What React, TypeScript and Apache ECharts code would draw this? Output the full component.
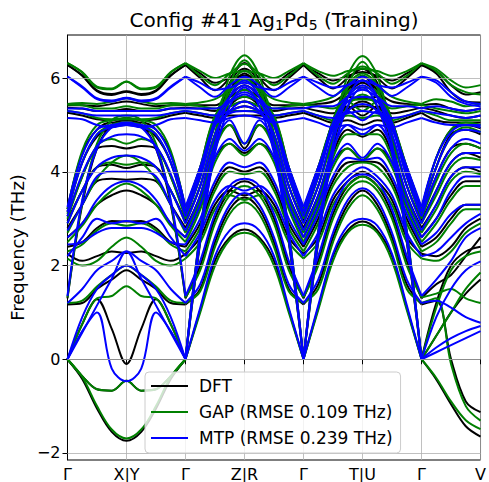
import React, { useEffect, useRef } from "react";
import * as echarts from "echarts";

const TICK_LABELS = ["Γ", "X|Y", "Γ", "Z|R", "Γ", "T|U", "Γ", "V"];
const Y_TICKS = [-2, 0, 2, 4, 6];

const K_A = [0, 0.25, 0.5, 0.75, 1, 1.25, 1.5, 1.75, 2];
const K_B = [2, 2.25, 2.5, 2.75, 3, 3.25, 3.5, 3.75, 4];
const K_C = [4, 4.25, 4.5, 4.75, 5, 5.25, 5.5, 5.75, 6];
const K_D = [6, 6.25, 6.5, 6.75, 7];

const DFT_A = [
  [0,-0.42,-1.05,-1.55,-1.74,-1.55,-1.05,-0.42,0],
  [0,-0.36,-0.64,-0.67,-0.46,-0.67,-0.64,-0.36,0],
  [0,0.75,1.28,0.65,-0.1,0.65,1.28,0.75,0],
  [1.17,1.2,1.5,1.7,1.9,1.7,1.5,1.2,1.17],
  [1.3,3.3,4.5,5.0,5.1,5.0,4.5,3.3,1.3],
  [2.25,2.1,2.2,2.3,2.27,2.3,2.2,2.1,2.25],
  [2.4,2.5,2.8,2.95,2.94,2.95,2.8,2.5,2.4],
  [2.6,2.9,3.3,3.5,3.6,3.5,3.3,2.9,2.6],
  [2.8,3.3,3.8,3.85,3.83,3.85,3.8,3.3,2.8],
  [2.95,3.6,4.1,4.15,4.08,4.15,4.1,3.6,2.95],
  [3.05,3.9,4.5,4.55,4.5,4.55,4.5,3.9,3.05],
  [3.15,4.2,4.75,4.95,5.0,4.95,4.75,4.2,3.15],
  [3.2,4.4,4.9,5.05,5.05,5.05,4.9,4.4,3.2],
  [5.26,5.2,5.12,5.1,5.15,5.1,5.12,5.2,5.26],
  [5.37,5.35,5.3,5.3,5.34,5.3,5.3,5.35,5.37],
  [5.42,5.42,5.4,5.45,5.5,5.45,5.4,5.42,5.42],
  [6.28,6.05,5.72,5.64,5.71,5.64,5.72,6.05,6.28],
  [6.28,6.06,5.74,5.66,5.72,5.66,5.74,6.06,6.28],
];
const DFT_B = [
  [0,1.05,2.1,2.6,2.77,2.6,2.1,1.05,0],
  [0,2.7,4.7,5.9,6.2,5.9,4.7,2.7,0],
  [0,2.5,4.5,5.7,6.1,5.7,4.5,2.5,0],
  [1.17,1.5,2.5,3.2,3.45,3.2,2.5,1.5,1.17],
  [1.3,2.0,3.0,3.6,3.8,3.6,3.0,2.0,1.3],
  [2.25,2.6,3.3,3.6,3.5,3.6,3.3,2.6,2.25],
  [2.4,2.9,3.7,4.1,4.0,4.1,3.7,2.9,2.4],
  [2.6,3.3,4.3,4.6,4.4,4.6,4.3,3.3,2.6],
  [2.8,3.5,4.6,5.0,4.5,5.0,4.6,3.5,2.8],
  [2.95,3.7,4.8,5.4,5.6,5.4,4.8,3.7,2.95],
  [3.05,3.9,5.0,5.6,5.85,5.6,5.0,3.9,3.05],
  [3.15,4.0,5.1,5.75,6.0,5.75,5.1,4.0,3.15],
  [3.2,4.1,5.15,5.3,5.4,5.3,5.15,4.1,3.2],
  [5.26,5.2,5.15,5.2,5.2,5.2,5.15,5.2,5.26],
  [5.37,5.35,5.3,5.4,5.5,5.4,5.3,5.35,5.37],
  [5.42,5.42,5.42,5.6,5.75,5.6,5.42,5.42,5.42],
  [6.28,6.0,5.74,6.0,6.32,6.0,5.74,6.0,6.28],
  [6.28,6.1,5.9,6.0,6.05,6.0,5.9,6.1,6.28],
];
const DFT_C = [
  [0,1.1,2.2,2.75,2.94,2.75,2.2,1.1,0],
  [0,2.7,4.7,5.9,6.2,5.9,4.7,2.7,0],
  [0,2.5,4.5,5.6,6.05,5.6,4.5,2.5,0],
  [1.17,1.6,2.6,3.3,3.6,3.3,2.6,1.6,1.17],
  [1.3,2.1,3.1,3.7,3.9,3.7,3.1,2.1,1.3],
  [2.25,2.6,3.4,3.8,4.0,3.8,3.4,2.6,2.25],
  [2.4,3.0,3.8,4.2,4.22,4.2,3.8,3.0,2.4],
  [2.6,3.3,4.2,4.5,4.25,4.5,4.2,3.3,2.6],
  [2.8,3.5,4.4,4.9,4.75,4.9,4.4,3.5,2.8],
  [2.95,3.7,4.7,5.3,5.5,5.3,4.7,3.7,2.95],
  [3.05,3.9,5.0,5.6,5.57,5.6,5.0,3.9,3.05],
  [3.15,4.0,5.1,5.75,5.95,5.75,5.1,4.0,3.15],
  [3.2,4.1,5.0,5.4,5.2,5.4,5.0,4.1,3.2],
  [5.26,5.15,5.05,5.1,5.0,5.1,5.05,5.15,5.26],
  [5.37,5.3,5.25,5.35,5.4,5.35,5.25,5.3,5.37],
  [5.42,5.45,5.5,5.7,5.9,5.7,5.5,5.45,5.42],
  [6.28,6.0,5.78,6.0,6.2,6.0,5.78,6.0,6.28],
  [6.28,6.1,5.95,6.05,6.13,6.05,5.95,6.1,6.28],
];
const DFT_D = [
  [0,-0.43,-0.96,-1.43,-1.65],
  [0,0.5,1.0,1.4,1.7],
  [0,1.2,2.0,2.3,2.4],
  [1.17,1.25,0.0,-0.9,-1.13],
  [1.3,1.6,1.8,2.2,2.6],
  [2.25,2.2,2.4,2.8,3.0],
  [2.4,2.6,3.0,3.3,3.3],
  [2.6,3.0,3.5,3.8,3.8],
  [2.8,3.3,3.9,4.1,4.0],
  [2.95,3.6,4.2,4.4,4.3],
  [3.05,3.9,4.5,4.6,4.5],
  [3.15,4.1,4.8,4.9,4.8],
  [3.2,4.3,4.9,5.0,4.93],
  [5.26,5.1,5.05,5.05,5.05],
  [5.37,5.3,5.2,5.15,5.2],
  [5.42,5.45,5.35,5.3,5.35],
  [6.28,6.15,5.85,5.65,5.7],
  [6.28,6.1,5.7,5.5,5.48],
];

const GAP_A = [
  [0,-0.38,-1.0,-1.5,-1.69,-1.5,-1.0,-0.38,0],
  [0,-0.36,-0.64,-0.67,-0.46,-0.67,-0.64,-0.36,0],
  [0,0.75,1.3,1.35,1.56,1.35,1.3,0.75,0],
  [1.2,1.25,1.55,1.8,2.0,1.8,1.55,1.25,1.2],
  [1.32,3.35,4.6,5.1,5.2,5.1,4.6,3.35,1.32],
  [2.15,2.0,2.1,2.4,2.6,2.4,2.1,2.0,2.15],
  [2.3,2.45,2.75,2.9,2.85,2.9,2.75,2.45,2.3],
  [2.5,2.85,3.3,3.6,3.75,3.6,3.3,2.85,2.5],
  [2.7,3.3,3.85,4.2,4.35,4.2,3.85,3.3,2.7],
  [2.9,3.6,4.1,4.2,4.15,4.2,4.1,3.6,2.9],
  [3.0,3.9,4.55,4.7,4.6,4.7,4.55,3.9,3.0],
  [3.1,4.2,4.8,5.0,5.05,5.0,4.8,4.2,3.1],
  [3.2,4.45,5.0,5.1,5.12,5.1,5.0,4.45,3.2],
  [5.3,5.25,5.15,5.12,5.15,5.12,5.15,5.25,5.3],
  [5.43,5.42,5.35,5.35,5.4,5.35,5.35,5.42,5.43],
  [5.45,5.47,5.45,5.5,5.57,5.5,5.45,5.47,5.45],
  [6.32,6.12,5.8,5.76,5.92,5.76,5.8,6.12,6.32],
  [6.32,6.13,5.82,5.78,5.93,5.78,5.82,6.13,6.32],
];
const GAP_B = [
  [0,1.0,2.0,2.55,2.7,2.55,2.0,1.0,0],
  [0,2.75,4.8,6.05,6.49,6.05,4.8,2.75,0],
  [0,2.55,4.6,5.85,6.38,5.85,4.6,2.55,0],
  [1.2,1.45,2.4,3.1,3.35,3.1,2.4,1.45,1.2],
  [1.32,1.9,2.9,3.5,3.7,3.5,2.9,1.9,1.32],
  [2.15,2.5,3.2,3.5,3.4,3.5,3.2,2.5,2.15],
  [2.3,2.8,3.6,4.0,3.95,4.0,3.6,2.8,2.3],
  [2.5,3.2,4.2,4.6,4.35,4.6,4.2,3.2,2.5],
  [2.7,3.4,4.5,5.0,4.6,5.0,4.5,3.4,2.7],
  [2.9,3.7,4.8,5.5,5.75,5.5,4.8,3.7,2.9],
  [3.0,3.9,5.0,5.7,6.0,5.7,5.0,3.9,3.0],
  [3.1,4.0,5.15,5.85,6.15,5.85,5.15,4.0,3.1],
  [3.2,4.1,5.2,5.4,5.5,5.4,5.2,4.1,3.2],
  [5.3,5.25,5.2,5.3,5.3,5.3,5.2,5.25,5.3],
  [5.43,5.4,5.35,5.5,5.6,5.5,5.35,5.4,5.43],
  [5.45,5.48,5.55,5.75,5.95,5.75,5.55,5.48,5.45],
  [6.32,6.05,5.85,6.1,6.3,6.1,5.85,6.05,6.32],
  [6.32,6.15,6.0,6.1,6.15,6.1,6.0,6.15,6.32],
];
const GAP_C = [
  [0,1.05,2.1,2.7,2.87,2.7,2.1,1.05,0],
  [0,2.75,4.8,6.05,6.47,6.05,4.8,2.75,0],
  [0,2.55,4.6,5.8,6.35,5.8,4.6,2.55,0],
  [1.2,1.5,2.5,3.2,3.5,3.2,2.5,1.5,1.2],
  [1.32,2.0,3.0,3.6,3.8,3.6,3.0,2.0,1.32],
  [2.15,2.5,3.3,3.7,3.9,3.7,3.3,2.5,2.15],
  [2.3,2.9,3.7,4.1,4.2,4.1,3.7,2.9,2.3],
  [2.5,3.2,4.1,4.5,4.25,4.5,4.1,3.2,2.5],
  [2.7,3.4,4.3,4.8,4.8,4.8,4.3,3.4,2.7],
  [2.9,3.7,4.7,5.4,5.65,5.4,4.7,3.7,2.9],
  [3.0,3.9,5.0,5.7,5.8,5.7,5.0,3.9,3.0],
  [3.1,4.0,5.1,5.85,6.1,5.85,5.1,4.0,3.1],
  [3.2,4.1,5.05,5.5,5.3,5.5,5.05,4.1,3.2],
  [5.3,5.2,5.1,5.2,5.15,5.2,5.1,5.2,5.3],
  [5.43,5.4,5.35,5.5,5.55,5.5,5.35,5.4,5.43],
  [5.45,5.5,5.6,5.85,6.05,5.85,5.6,5.5,5.45],
  [6.32,6.05,5.88,6.1,6.25,6.1,5.88,6.05,6.32],
  [6.32,6.15,6.05,6.15,6.2,6.15,6.05,6.15,6.32],
];
const GAP_D = [
  [0,-0.4,-0.9,-1.3,-1.49],
  [0,0.5,1.0,1.5,1.85],
  [0,1.1,1.9,2.2,2.3],
  [1.2,1.3,-0.1,-1.0,-1.31],
  [1.32,1.4,1.5,1.3,1.2],
  [2.15,2.1,2.3,2.7,2.9],
  [2.3,2.5,2.9,3.2,3.2],
  [2.5,2.9,3.4,3.7,3.7],
  [2.7,3.2,3.8,4.0,3.95],
  [2.9,3.5,4.1,4.3,4.25],
  [3.0,3.8,4.4,4.6,4.5],
  [3.1,4.1,4.75,4.95,4.85],
  [3.2,4.3,4.9,5.05,5.0],
  [5.3,5.2,5.1,5.1,5.1],
  [5.43,5.35,5.3,5.25,5.3],
  [5.45,5.55,5.5,5.4,5.45],
  [6.32,6.2,5.95,5.8,5.85],
  [6.32,6.15,5.85,5.7,5.65],
];

const MTP_A = [
  [0,0.57,1.15,1.72,2.3,1.72,1.15,0.57,0],
  [0,0.6,1.0,-0.2,-0.47,-0.2,1.0,0.6,0],
  [0,0.9,1.5,1.8,2.0,1.8,1.5,0.9,0],
  [1.2,1.5,1.9,2.1,2.3,2.1,1.9,1.5,1.2],
  [1.35,3.4,4.5,4.95,5.05,4.95,4.5,3.4,1.35],
  [2.2,2.6,3.0,2.9,2.95,2.9,3.0,2.6,2.2],
  [2.45,2.5,2.7,2.8,2.8,2.8,2.7,2.5,2.45],
  [2.6,2.9,3.4,3.7,3.8,3.7,3.4,2.9,2.6],
  [2.75,3.3,3.9,4.0,4.0,4.0,3.9,3.3,2.75],
  [2.9,3.6,4.1,4.3,4.35,4.3,4.1,3.6,2.9],
  [3.05,3.95,4.55,4.75,4.8,4.75,4.55,3.95,3.05],
  [3.15,4.2,4.8,4.95,5.0,4.95,4.8,4.2,3.15],
  [3.25,4.35,4.9,5.0,5.02,5.0,4.9,4.35,3.25],
  [5.15,5.12,5.0,4.95,5.0,4.95,5.0,5.12,5.15],
  [5.3,5.25,5.2,5.2,5.2,5.2,5.2,5.25,5.3],
  [5.35,5.35,5.3,5.3,5.3,5.3,5.3,5.35,5.35],
  [6.03,5.8,5.55,5.5,5.57,5.5,5.55,5.8,6.03],
  [6.03,5.82,5.57,5.52,5.58,5.52,5.57,5.82,6.03],
];
const MTP_B = [
  [0,1.1,2.2,2.75,2.9,2.75,2.2,1.1,0],
  [0,2.7,4.6,5.6,5.95,5.6,4.6,2.7,0],
  [0,2.55,4.4,5.4,5.8,5.4,4.4,2.55,0],
  [1.2,1.6,2.6,3.3,3.55,3.3,2.6,1.6,1.2],
  [1.35,2.1,3.1,3.7,3.85,3.7,3.1,2.1,1.35],
  [2.2,2.7,3.4,3.7,3.6,3.7,3.4,2.7,2.2],
  [2.45,3.0,3.8,4.2,4.1,4.2,3.8,3.0,2.45],
  [2.6,3.3,4.3,4.7,4.45,4.7,4.3,3.3,2.6],
  [2.75,3.5,4.6,5.1,4.6,5.1,4.6,3.5,2.75],
  [2.9,3.7,4.8,5.3,5.5,5.3,4.8,3.7,2.9],
  [3.05,3.9,5.0,5.5,5.7,5.5,5.0,3.9,3.05],
  [3.15,4.0,5.1,5.6,5.85,5.6,5.1,4.0,3.15],
  [3.25,4.1,5.0,5.25,5.3,5.25,5.0,4.1,3.25],
  [5.15,5.1,5.05,5.15,5.2,5.15,5.05,5.1,5.15],
  [5.3,5.25,5.2,5.3,5.4,5.3,5.2,5.25,5.3],
  [5.35,5.35,5.35,5.5,5.65,5.5,5.35,5.35,5.35],
  [6.03,5.8,5.6,5.85,6.03,5.85,5.6,5.8,6.03],
  [6.03,5.9,5.75,5.8,5.9,5.8,5.75,5.9,6.03],
];
const MTP_C = [
  [0,1.15,2.25,2.85,3.0,2.85,2.25,1.15,0],
  [0,2.7,4.6,5.6,5.95,5.6,4.6,2.7,0],
  [0,2.55,4.4,5.4,5.8,5.4,4.4,2.55,0],
  [1.2,1.7,2.7,3.4,3.65,3.4,2.7,1.7,1.2],
  [1.35,2.2,3.2,3.8,3.95,3.8,3.2,2.2,1.35],
  [2.2,2.7,3.5,3.9,4.1,3.9,3.5,2.7,2.2],
  [2.45,3.1,3.9,4.3,4.25,4.3,3.9,3.1,2.45],
  [2.6,3.3,4.2,4.6,4.3,4.6,4.2,3.3,2.6],
  [2.75,3.5,4.5,5.0,4.8,5.0,4.5,3.5,2.75],
  [2.9,3.7,4.8,5.3,5.45,5.3,4.8,3.7,2.9],
  [3.05,3.9,4.95,5.5,5.6,5.5,4.95,3.9,3.05],
  [3.15,4.0,5.05,5.6,5.85,5.6,5.05,4.0,3.15],
  [3.25,4.1,4.9,5.3,5.1,5.3,4.9,4.1,3.25],
  [5.15,5.05,4.95,5.0,4.9,5.0,4.95,5.05,5.15],
  [5.3,5.2,5.15,5.25,5.3,5.25,5.15,5.2,5.3],
  [5.35,5.4,5.4,5.6,5.75,5.6,5.4,5.4,5.35],
  [6.03,5.8,5.62,5.85,6.03,5.85,5.62,5.8,6.03],
  [6.03,5.9,5.8,5.85,5.95,5.85,5.8,5.9,6.03],
];
const MTP_D = [
  [0,0.15,0.3,0.45,0.6],
  [0,0.25,0.45,0.6,0.71],
  [0,0.9,1.5,1.9,2.09],
  [1.2,1.25,1.1,0.9,0.78],
  [1.35,1.7,2.1,2.6,2.8],
  [2.2,2.3,2.6,2.9,3.1],
  [2.45,2.7,3.1,3.3,3.3],
  [2.6,3.0,3.6,3.9,3.9],
  [2.75,3.3,3.9,4.1,4.1],
  [2.9,3.6,4.2,4.4,4.4],
  [3.05,3.9,4.5,4.7,4.6],
  [3.15,4.1,4.75,4.9,4.85],
  [3.25,4.3,4.85,5.0,4.95],
  [5.15,5.05,5.0,5.0,5.0],
  [5.3,5.25,5.2,5.15,5.2],
  [5.35,5.4,5.35,5.3,5.35],
  [6.03,5.95,5.7,5.5,5.45],
  [6.03,5.9,5.6,5.45,5.4],
];

const MODEL_NAMES = ["DFT", "GAP (RMSE 0.109 THz)", "MTP (RMSE 0.239 THz)"];
const MODEL_COLORS = ["#000000", "#008000", "#0000ff"];
const MODEL_DATA = [
  [DFT_A, DFT_B, DFT_C, DFT_D],
  [GAP_A, GAP_B, GAP_C, GAP_D],
  [MTP_A, MTP_B, MTP_C, MTP_D],
];
const REGION_K = [K_A, K_B, K_C, K_D];

const FONT = "DejaVu Sans";
const LINE_W = 2;

export default function App() {
  const ref = useRef<HTMLDivElement>(null);
  useEffect(() => {
    if (!ref.current) return;
    const chart = echarts.init(ref.current, null, { renderer: "svg" });
    const series: any[] = [];
    series.push({
      type: "line",
      name: "grid",
      data: [],
      silent: true,
      z: 1,
      markLine: {
        silent: true,
        symbol: ["none", "none"],
        label: { show: false },
        lineStyle: { color: "#b0b0b0", width: 0.8, type: "solid" },
        emphasis: { disabled: true },
        data: Y_TICKS.map((v) => ({ yAxis: v })),
      },
    });
    MODEL_DATA.forEach((regions, mi) => {
      regions.forEach((rows, ri) => {
        const ks = REGION_K[ri];
        rows.forEach((row) => {
          series.push({
            type: "line",
            name: MODEL_NAMES[mi],
            data: row.map((v, i) => [ks[i], v]),
            smooth: 0.35,
            symbol: "none",
            showSymbol: false,
            silent: true,
            z: 2 + mi,
            lineStyle: { color: MODEL_COLORS[mi], width: LINE_W },
            itemStyle: { color: MODEL_COLORS[mi] },
            emphasis: { disabled: true },
          });
        });
      });
    });
    chart.setOption({
      animation: false,
      grid: {
        left: 64,
        right: 5,
        top: 35,
        bottom: 21,
        show: true,
        borderColor: "#000",
        borderWidth: 1,
        backgroundColor: "transparent",
      },
      graphic: [
        {
          type: "text",
          x: 274,
          y: 20,
          style: {
            text: "{a|Config #41 Ag}{s|1}{a|Pd}{s|5}{a| (Training)}",
            fontFamily: FONT,
            fill: "#000",
            textAlign: "center",
            textVerticalAlign: "middle",
            rich: {
              a: { fontSize: 20, fontFamily: FONT, fill: "#000", lineHeight: 24 },
              s: { fontSize: 14, fontFamily: FONT, fill: "#000", lineHeight: 14, verticalAlign: "bottom" },
            },
          },
        },
      ],
      legend: {
        orient: "vertical",
        left: 145,
        top: 372,
        itemWidth: 37,
        itemHeight: 14,
        itemGap: 6,
        padding: [4, 8, 5, 5],
        backgroundColor: "rgba(255,255,255,0.8)",
        borderColor: "#cccccc",
        borderWidth: 1,
        borderRadius: 4,
        z: 10,
        selectedMode: false,
        itemStyle: { opacity: 0, borderWidth: 0 },
        lineStyle: { width: LINE_W },
        textStyle: { fontSize: 17, fontFamily: FONT, color: "#000", padding: [0, 0, 0, 6], lineHeight: 20 },
        data: MODEL_NAMES,
      },
      xAxis: {
        type: "value",
        min: 0,
        max: 7,
        interval: 1,
        axisLine: { show: true, lineStyle: { color: "#000", width: 1 } },
        axisTick: { show: true, length: 5, lineStyle: { color: "#000" } },
        axisLabel: {
          fontSize: 16,
          fontFamily: FONT,
          color: "#000",
          margin: 6,
          formatter: (v: number) => TICK_LABELS[Math.round(v)] ?? "",
        },
        splitLine: { show: true, lineStyle: { color: "#b0b0b0", width: 0.8 } },
      },
      yAxis: {
        type: "value",
        min: -2.15,
        max: 6.92,
        name: "Frequency (THz)",
        nameLocation: "middle",
        nameGap: 36,
        nameRotate: 90,
        nameTextStyle: { fontSize: 18, fontFamily: FONT, color: "#000" },
        axisLine: { show: true, lineStyle: { color: "#000", width: 1 } },
        axisTick: { show: true, length: 5, customValues: Y_TICKS, lineStyle: { color: "#000" } },
        axisLabel: {
          fontSize: 16,
          fontFamily: FONT,
          color: "#000",
          margin: 7,
          customValues: Y_TICKS,
          formatter: (v: number) => (v < 0 ? "−" + Math.abs(v) : String(v)),
        },
        splitLine: { show: false },
      },
      series,
    });
    return () => chart.dispose();
  }, []);
  return (
    <div
      ref={ref}
      style={{ position: "fixed", left: 0, top: 0, width: 489, height: 482, background: "#fff" }}
    />
  );
}
